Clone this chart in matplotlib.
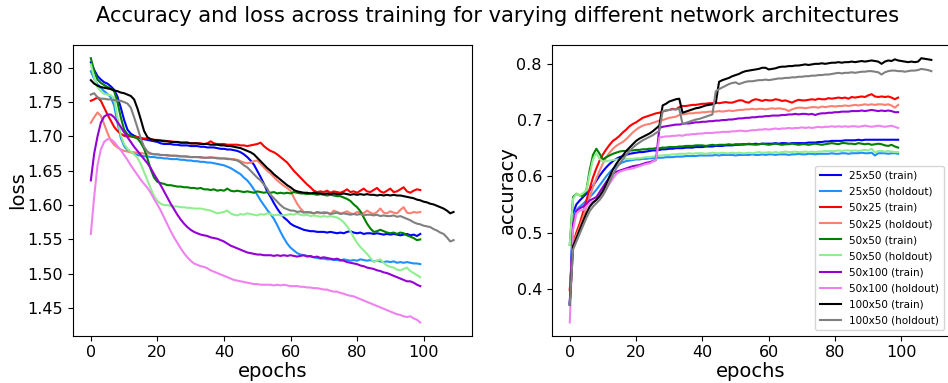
import matplotlib
matplotlib.use("Agg")
import matplotlib.pyplot as plt

epochs_100 = list(range(100))
epochs_110 = list(range(110))

labels = ["25x50 (train)", "25x50 (holdout)", "50x25 (train)", "50x25 (holdout)",
          "50x50 (train)", "50x50 (holdout)", "50x100 (train)", "50x100 (holdout)",
          "100x50 (train)", "100x50 (holdout)"]
colors = ["blue", "dodgerblue", "red", "salmon", "green", "lightgreen",
          "darkviolet", "violet", "black", "grey"]

# ---------------- loss ----------------
loss_25x50_train = [1.808, 1.797, 1.788, 1.783, 1.779, 1.777, 1.773, 1.768, 1.758, 1.742,
    1.724, 1.710, 1.704, 1.701, 1.699, 1.697, 1.696, 1.695, 1.694, 1.693,
    1.692, 1.690, 1.689, 1.689, 1.689, 1.688, 1.688, 1.687, 1.687, 1.687,
    1.686, 1.686, 1.686, 1.685, 1.685, 1.684, 1.684, 1.684, 1.683, 1.682,
    1.682, 1.681, 1.681, 1.680, 1.679, 1.677, 1.674, 1.670, 1.665, 1.659,
    1.650, 1.641, 1.631, 1.620, 1.612, 1.603, 1.595, 1.588, 1.582, 1.578,
    1.573, 1.570, 1.568, 1.566, 1.564, 1.563, 1.562, 1.562, 1.561, 1.561,
    1.561, 1.560, 1.561, 1.560, 1.559, 1.560, 1.559, 1.561, 1.562, 1.560,
    1.559, 1.560, 1.558, 1.559, 1.559, 1.558, 1.559, 1.558, 1.557, 1.558,
    1.557, 1.558, 1.557, 1.556, 1.557, 1.558, 1.556, 1.557, 1.555, 1.558]
loss_25x50_hold = [1.795, 1.784, 1.776, 1.771, 1.766, 1.762, 1.757, 1.745, 1.720, 1.698,
    1.686, 1.680, 1.677, 1.675, 1.673, 1.672, 1.671, 1.671, 1.670, 1.670,
    1.669, 1.669, 1.668, 1.668, 1.667, 1.667, 1.667, 1.666, 1.666, 1.665,
    1.665, 1.664, 1.664, 1.663, 1.663, 1.662, 1.662, 1.661, 1.660, 1.659,
    1.658, 1.656, 1.654, 1.651, 1.648, 1.645, 1.640, 1.636, 1.630, 1.623,
    1.615, 1.607, 1.600, 1.593, 1.587, 1.580, 1.571, 1.561, 1.552, 1.544,
    1.538, 1.534, 1.530, 1.528, 1.527, 1.526, 1.525, 1.524, 1.523, 1.522,
    1.522, 1.521, 1.521, 1.520, 1.520, 1.519, 1.521, 1.520, 1.519, 1.520,
    1.519, 1.521, 1.520, 1.519, 1.520, 1.518, 1.519, 1.518, 1.517, 1.518,
    1.517, 1.518, 1.516, 1.517, 1.516, 1.517, 1.516, 1.515, 1.515, 1.514]
loss_50x25_train = [1.752, 1.754, 1.757, 1.752, 1.742, 1.732, 1.723, 1.714, 1.708, 1.704,
    1.701, 1.700, 1.700, 1.699, 1.699, 1.698, 1.697, 1.697, 1.696, 1.695,
    1.695, 1.694, 1.694, 1.693, 1.693, 1.692, 1.692, 1.691, 1.691, 1.691,
    1.690, 1.690, 1.690, 1.690, 1.689, 1.690, 1.693, 1.690, 1.689, 1.689,
    1.689, 1.688, 1.688, 1.688, 1.688, 1.687, 1.687, 1.686, 1.687, 1.688,
    1.689, 1.691, 1.686, 1.682, 1.679, 1.677, 1.674, 1.670, 1.666, 1.662,
    1.656, 1.650, 1.645, 1.640, 1.635, 1.630, 1.626, 1.621, 1.619, 1.620,
    1.619, 1.621, 1.618, 1.620, 1.619, 1.618, 1.620, 1.623, 1.619, 1.620,
    1.618, 1.621, 1.624, 1.620, 1.619, 1.622, 1.625, 1.620, 1.618, 1.621,
    1.624, 1.619, 1.620, 1.623, 1.626, 1.620, 1.618, 1.621, 1.623, 1.622]
loss_50x25_hold = [1.720, 1.728, 1.735, 1.730, 1.718, 1.705, 1.694, 1.688, 1.684, 1.681,
    1.679, 1.678, 1.677, 1.677, 1.676, 1.676, 1.675, 1.675, 1.675, 1.674,
    1.674, 1.673, 1.673, 1.672, 1.672, 1.672, 1.671, 1.671, 1.671, 1.670,
    1.670, 1.670, 1.670, 1.669, 1.669, 1.669, 1.670, 1.669, 1.669, 1.668,
    1.668, 1.668, 1.667, 1.667, 1.666, 1.664, 1.662, 1.661, 1.662, 1.664,
    1.665, 1.660, 1.655, 1.650, 1.646, 1.641, 1.636, 1.632, 1.628, 1.625,
    1.621, 1.611, 1.602, 1.595, 1.590, 1.589, 1.590, 1.588, 1.589, 1.588,
    1.590, 1.589, 1.587, 1.592, 1.590, 1.588, 1.589, 1.591, 1.588, 1.587,
    1.590, 1.589, 1.588, 1.592, 1.589, 1.587, 1.590, 1.595, 1.589, 1.588,
    1.591, 1.589, 1.588, 1.593, 1.597, 1.589, 1.588, 1.590, 1.589, 1.590]
loss_50x50_train = [1.814, 1.795, 1.783, 1.778, 1.775, 1.772, 1.770, 1.766, 1.750, 1.728,
    1.710, 1.703, 1.701, 1.699, 1.697, 1.691, 1.682, 1.668, 1.652, 1.640,
    1.634, 1.632, 1.631, 1.629, 1.629, 1.628, 1.627, 1.627, 1.626, 1.626,
    1.625, 1.625, 1.624, 1.625, 1.623, 1.623, 1.622, 1.623, 1.621, 1.622,
    1.621, 1.624, 1.621, 1.620, 1.621, 1.620, 1.619, 1.620, 1.619, 1.618,
    1.620, 1.619, 1.618, 1.619, 1.618, 1.619, 1.617, 1.618, 1.617, 1.618,
    1.617, 1.619, 1.618, 1.617, 1.617, 1.616, 1.617, 1.616, 1.615, 1.616,
    1.615, 1.614, 1.615, 1.614, 1.613, 1.613, 1.611, 1.609, 1.606, 1.601,
    1.597, 1.591, 1.582, 1.573, 1.566, 1.561, 1.562, 1.564, 1.562, 1.560,
    1.559, 1.560, 1.558, 1.560, 1.559, 1.556, 1.554, 1.552, 1.549, 1.550]
loss_50x50_hold = [1.805, 1.786, 1.772, 1.766, 1.762, 1.761, 1.760, 1.756, 1.728, 1.702,
    1.689, 1.682, 1.678, 1.674, 1.669, 1.660, 1.648, 1.636, 1.624, 1.613,
    1.606, 1.602, 1.600, 1.600, 1.599, 1.598, 1.598, 1.597, 1.597, 1.596,
    1.596, 1.595, 1.595, 1.595, 1.594, 1.593, 1.592, 1.590, 1.588, 1.589,
    1.590, 1.592, 1.588, 1.586, 1.585, 1.587, 1.586, 1.588, 1.587, 1.586,
    1.585, 1.587, 1.586, 1.588, 1.587, 1.585, 1.586, 1.585, 1.585, 1.586,
    1.587, 1.586, 1.588, 1.586, 1.585, 1.586, 1.584, 1.585, 1.584, 1.583,
    1.584, 1.583, 1.584, 1.583, 1.582, 1.579, 1.575, 1.569, 1.562, 1.553,
    1.545, 1.539, 1.534, 1.529, 1.523, 1.517, 1.519, 1.521, 1.516, 1.512,
    1.510, 1.509, 1.506, 1.505, 1.507, 1.509, 1.504, 1.501, 1.498, 1.495]
loss_50x100_train = [1.636, 1.675, 1.700, 1.720, 1.729, 1.732, 1.732, 1.728, 1.721, 1.714,
    1.706, 1.699, 1.692, 1.685, 1.679, 1.673, 1.667, 1.661, 1.654, 1.645,
    1.637, 1.629, 1.620, 1.611, 1.602, 1.594, 1.586, 1.579, 1.573, 1.568,
    1.564, 1.561, 1.559, 1.557, 1.556, 1.555, 1.553, 1.552, 1.551, 1.549,
    1.547, 1.544, 1.541, 1.539, 1.537, 1.535, 1.533, 1.531, 1.530, 1.529,
    1.528, 1.528, 1.527, 1.527, 1.527, 1.526, 1.527, 1.526, 1.527, 1.526,
    1.527, 1.526, 1.525, 1.526, 1.527, 1.525, 1.526, 1.524, 1.525, 1.523,
    1.524, 1.523, 1.522, 1.521, 1.522, 1.520, 1.519, 1.517, 1.516, 1.515,
    1.514, 1.512, 1.511, 1.509, 1.508, 1.507, 1.505, 1.504, 1.502, 1.501,
    1.499, 1.497, 1.495, 1.493, 1.491, 1.489, 1.489, 1.487, 1.484, 1.482]
loss_50x100_hold = [1.558, 1.612, 1.658, 1.681, 1.692, 1.696, 1.696, 1.692, 1.686, 1.680,
    1.673, 1.666, 1.658, 1.651, 1.644, 1.637, 1.631, 1.625, 1.618, 1.609,
    1.601, 1.592, 1.582, 1.572, 1.562, 1.553, 1.545, 1.537, 1.530, 1.524,
    1.519, 1.515, 1.513, 1.511, 1.510, 1.508, 1.505, 1.503, 1.501, 1.499,
    1.497, 1.495, 1.493, 1.491, 1.490, 1.489, 1.488, 1.487, 1.486, 1.485,
    1.485, 1.484, 1.484, 1.484, 1.484, 1.483, 1.484, 1.483, 1.484, 1.483,
    1.482, 1.482, 1.482, 1.481, 1.481, 1.480, 1.480, 1.479, 1.479, 1.478,
    1.477, 1.477, 1.475, 1.474, 1.474, 1.472, 1.471, 1.469, 1.468, 1.467,
    1.465, 1.463, 1.461, 1.459, 1.457, 1.455, 1.453, 1.451, 1.449, 1.447,
    1.445, 1.443, 1.441, 1.440, 1.438, 1.437, 1.438, 1.435, 1.433, 1.429]
loss_100x50_train = [1.782, 1.777, 1.774, 1.772, 1.771, 1.770, 1.769, 1.767, 1.766, 1.764,
    1.763, 1.761, 1.759, 1.754, 1.741, 1.725, 1.708, 1.699, 1.696, 1.695,
    1.694, 1.694, 1.693, 1.693, 1.692, 1.692, 1.692, 1.691, 1.691, 1.691,
    1.690, 1.690, 1.690, 1.689, 1.689, 1.689, 1.688, 1.688, 1.688, 1.687,
    1.687, 1.686, 1.686, 1.685, 1.684, 1.683, 1.681, 1.679, 1.677, 1.674,
    1.669, 1.664, 1.659, 1.654, 1.650, 1.645, 1.641, 1.637, 1.633, 1.629,
    1.626, 1.622, 1.620, 1.619, 1.618, 1.618, 1.617, 1.618, 1.617, 1.617,
    1.616, 1.617, 1.616, 1.617, 1.616, 1.616, 1.617, 1.616, 1.615, 1.616,
    1.615, 1.616, 1.615, 1.616, 1.615, 1.615, 1.614, 1.615, 1.614, 1.615,
    1.614, 1.615, 1.614, 1.614, 1.613, 1.612, 1.611, 1.610, 1.608, 1.607,
    1.605, 1.604, 1.602, 1.601, 1.599, 1.597, 1.595, 1.592, 1.588, 1.590]
loss_100x50_hold = [1.761, 1.763, 1.757, 1.755, 1.755, 1.754, 1.754, 1.753, 1.752, 1.752,
    1.750, 1.748, 1.742, 1.728, 1.713, 1.697, 1.685, 1.678, 1.675, 1.674,
    1.674, 1.673, 1.673, 1.673, 1.672, 1.672, 1.672, 1.671, 1.671, 1.671,
    1.670, 1.670, 1.670, 1.670, 1.669, 1.669, 1.669, 1.669, 1.668, 1.668,
    1.668, 1.667, 1.667, 1.666, 1.665, 1.662, 1.658, 1.655, 1.650, 1.645,
    1.640, 1.636, 1.630, 1.624, 1.615, 1.610, 1.605, 1.600, 1.596, 1.594,
    1.592, 1.592, 1.590, 1.591, 1.589, 1.590, 1.589, 1.588, 1.590, 1.589,
    1.588, 1.589, 1.587, 1.588, 1.589, 1.587, 1.588, 1.587, 1.586, 1.587,
    1.586, 1.587, 1.585, 1.586, 1.586, 1.585, 1.586, 1.584, 1.585, 1.584,
    1.584, 1.585, 1.583, 1.584, 1.582, 1.580, 1.578, 1.575, 1.573, 1.572,
    1.570, 1.569, 1.568, 1.565, 1.563, 1.560, 1.558, 1.553, 1.547, 1.549]

# ---------------- accuracy ----------------
acc_25x50_train = [0.372, 0.535, 0.550, 0.557, 0.563, 0.569, 0.575, 0.583, 0.592, 0.601,
    0.609, 0.616, 0.622, 0.627, 0.631, 0.634, 0.636, 0.638, 0.640, 0.641,
    0.642, 0.643, 0.643, 0.644, 0.645, 0.646, 0.646, 0.647, 0.648, 0.648,
    0.649, 0.649, 0.650, 0.650, 0.650, 0.651, 0.651, 0.651, 0.652, 0.652,
    0.652, 0.653, 0.653, 0.653, 0.654, 0.654, 0.654, 0.655, 0.655, 0.655,
    0.656, 0.656, 0.657, 0.657, 0.657, 0.657, 0.658, 0.657, 0.658, 0.658,
    0.658, 0.658, 0.659, 0.658, 0.659, 0.659, 0.658, 0.659, 0.659, 0.659,
    0.659, 0.659, 0.660, 0.660, 0.660, 0.661, 0.661, 0.662, 0.662, 0.663,
    0.663, 0.663, 0.663, 0.664, 0.664, 0.664, 0.664, 0.665, 0.664, 0.665,
    0.665, 0.665, 0.665, 0.665, 0.665, 0.665, 0.665, 0.665, 0.665, 0.665]
acc_25x50_hold = [0.372, 0.530, 0.540, 0.546, 0.551, 0.557, 0.563, 0.569, 0.576, 0.584,
    0.592, 0.600, 0.607, 0.613, 0.618, 0.622, 0.625, 0.627, 0.628, 0.629,
    0.630, 0.630, 0.631, 0.631, 0.632, 0.632, 0.633, 0.633, 0.633, 0.634,
    0.634, 0.634, 0.635, 0.635, 0.635, 0.636, 0.636, 0.636, 0.636, 0.637,
    0.637, 0.637, 0.637, 0.637, 0.638, 0.637, 0.638, 0.638, 0.638, 0.638,
    0.637, 0.638, 0.638, 0.638, 0.638, 0.639, 0.638, 0.638, 0.639, 0.638,
    0.639, 0.639, 0.638, 0.639, 0.639, 0.639, 0.638, 0.639, 0.639, 0.640,
    0.639, 0.639, 0.640, 0.640, 0.639, 0.640, 0.640, 0.640, 0.640, 0.641,
    0.640, 0.640, 0.641, 0.641, 0.640, 0.641, 0.641, 0.641, 0.642, 0.641,
    0.641, 0.642, 0.637, 0.641, 0.641, 0.641, 0.640, 0.641, 0.641, 0.640]
acc_50x25_train = [0.398, 0.480, 0.500, 0.516, 0.536, 0.557, 0.578, 0.598, 0.614, 0.628,
    0.639, 0.648, 0.656, 0.663, 0.667, 0.672, 0.678, 0.683, 0.689, 0.693,
    0.696, 0.700, 0.704, 0.706, 0.708, 0.710, 0.712, 0.713, 0.715, 0.717,
    0.718, 0.720, 0.719, 0.723, 0.725, 0.725, 0.726, 0.727, 0.727, 0.728,
    0.729, 0.729, 0.730, 0.730, 0.731, 0.730, 0.731, 0.732, 0.731, 0.731,
    0.733, 0.735, 0.735, 0.732, 0.731, 0.735, 0.737, 0.736, 0.734, 0.736,
    0.735, 0.735, 0.737, 0.736, 0.734, 0.735, 0.733, 0.731, 0.734, 0.736,
    0.735, 0.735, 0.736, 0.737, 0.736, 0.738, 0.737, 0.737, 0.739, 0.738,
    0.739, 0.740, 0.739, 0.740, 0.738, 0.741, 0.740, 0.741, 0.742, 0.741,
    0.744, 0.746, 0.742, 0.741, 0.742, 0.741, 0.742, 0.740, 0.737, 0.740]
acc_50x25_hold = [0.398, 0.478, 0.495, 0.510, 0.527, 0.545, 0.563, 0.581, 0.596, 0.610,
    0.623, 0.634, 0.642, 0.649, 0.654, 0.658, 0.661, 0.666, 0.672, 0.678,
    0.683, 0.687, 0.690, 0.692, 0.693, 0.695, 0.697, 0.699, 0.700, 0.702,
    0.704, 0.705, 0.706, 0.709, 0.710, 0.711, 0.712, 0.712, 0.713, 0.713,
    0.714, 0.714, 0.715, 0.715, 0.715, 0.716, 0.715, 0.716, 0.717, 0.716,
    0.717, 0.718, 0.718, 0.719, 0.719, 0.720, 0.719, 0.720, 0.720, 0.719,
    0.720, 0.721, 0.720, 0.721, 0.720, 0.719, 0.716, 0.719, 0.721, 0.722,
    0.722, 0.721, 0.722, 0.723, 0.723, 0.722, 0.724, 0.723, 0.724, 0.725,
    0.724, 0.725, 0.725, 0.726, 0.725, 0.726, 0.727, 0.726, 0.727, 0.728,
    0.727, 0.728, 0.727, 0.728, 0.728, 0.727, 0.728, 0.726, 0.722, 0.727]
acc_50x50_train = [0.478, 0.563, 0.569, 0.566, 0.565, 0.575, 0.611, 0.638, 0.649, 0.640,
    0.630, 0.634, 0.637, 0.640, 0.642, 0.644, 0.645, 0.645, 0.646, 0.646,
    0.647, 0.647, 0.648, 0.648, 0.649, 0.649, 0.650, 0.650, 0.651, 0.651,
    0.652, 0.652, 0.652, 0.653, 0.653, 0.654, 0.654, 0.654, 0.655, 0.655,
    0.655, 0.654, 0.655, 0.656, 0.655, 0.656, 0.656, 0.656, 0.657, 0.656,
    0.657, 0.657, 0.656, 0.657, 0.658, 0.657, 0.656, 0.657, 0.658, 0.657,
    0.656, 0.657, 0.658, 0.657, 0.656, 0.657, 0.657, 0.658, 0.657, 0.656,
    0.657, 0.657, 0.656, 0.657, 0.658, 0.657, 0.656, 0.657, 0.658, 0.659,
    0.658, 0.657, 0.659, 0.659, 0.658, 0.658, 0.657, 0.659, 0.658, 0.657,
    0.658, 0.656, 0.657, 0.658, 0.657, 0.655, 0.654, 0.656, 0.653, 0.651]
acc_50x50_hold = [0.478, 0.560, 0.569, 0.566, 0.570, 0.575, 0.604, 0.630, 0.641, 0.631,
    0.626, 0.627, 0.628, 0.629, 0.630, 0.630, 0.631, 0.631, 0.631, 0.631,
    0.632, 0.632, 0.633, 0.634, 0.634, 0.635, 0.636, 0.637, 0.637, 0.638,
    0.638, 0.639, 0.639, 0.640, 0.640, 0.640, 0.641, 0.640, 0.641, 0.641,
    0.641, 0.640, 0.641, 0.642, 0.641, 0.641, 0.642, 0.641, 0.641, 0.642,
    0.641, 0.642, 0.641, 0.641, 0.642, 0.641, 0.642, 0.643, 0.642, 0.642,
    0.643, 0.642, 0.643, 0.642, 0.643, 0.644, 0.643, 0.643, 0.644, 0.643,
    0.643, 0.644, 0.643, 0.644, 0.643, 0.644, 0.644, 0.645, 0.645, 0.645,
    0.645, 0.646, 0.645, 0.646, 0.646, 0.645, 0.646, 0.645, 0.646, 0.647,
    0.646, 0.649, 0.642, 0.645, 0.645, 0.644, 0.645, 0.644, 0.643, 0.643]
acc_50x100_train = [0.375, 0.515, 0.538, 0.543, 0.546, 0.551, 0.557, 0.560, 0.563, 0.572,
    0.581, 0.590, 0.598, 0.604, 0.608, 0.610, 0.612, 0.614, 0.616, 0.618,
    0.619, 0.620, 0.622, 0.624, 0.625, 0.627, 0.629, 0.686, 0.688, 0.689,
    0.690, 0.691, 0.692, 0.692, 0.693, 0.694, 0.694, 0.695, 0.696, 0.696,
    0.697, 0.697, 0.698, 0.698, 0.699, 0.699, 0.700, 0.700, 0.701, 0.701,
    0.702, 0.703, 0.703, 0.704, 0.704, 0.705, 0.705, 0.706, 0.706, 0.707,
    0.707, 0.708, 0.708, 0.708, 0.709, 0.709, 0.710, 0.710, 0.711, 0.710,
    0.711, 0.711, 0.710, 0.711, 0.709, 0.711, 0.712, 0.712, 0.713, 0.713,
    0.714, 0.714, 0.715, 0.715, 0.715, 0.716, 0.716, 0.716, 0.717, 0.716,
    0.717, 0.718, 0.717, 0.716, 0.717, 0.716, 0.717, 0.716, 0.714, 0.714]
acc_50x100_hold = [0.340, 0.505, 0.534, 0.539, 0.540, 0.546, 0.552, 0.555, 0.558, 0.563,
    0.569, 0.578, 0.587, 0.596, 0.604, 0.608, 0.610, 0.612, 0.613, 0.614,
    0.616, 0.618, 0.620, 0.622, 0.623, 0.626, 0.629, 0.669, 0.670, 0.671,
    0.671, 0.672, 0.672, 0.673, 0.672, 0.674, 0.674, 0.675, 0.675, 0.676,
    0.676, 0.677, 0.677, 0.677, 0.678, 0.678, 0.679, 0.679, 0.679, 0.680,
    0.680, 0.681, 0.681, 0.680, 0.681, 0.682, 0.682, 0.683, 0.683, 0.684,
    0.683, 0.684, 0.685, 0.684, 0.685, 0.685, 0.686, 0.685, 0.686, 0.686,
    0.687, 0.686, 0.687, 0.686, 0.687, 0.688, 0.687, 0.688, 0.688, 0.689,
    0.688, 0.689, 0.688, 0.689, 0.688, 0.689, 0.689, 0.688, 0.689, 0.690,
    0.689, 0.688, 0.689, 0.690, 0.689, 0.688, 0.689, 0.690, 0.688, 0.686]
acc_100x50_train = [0.372, 0.476, 0.490, 0.505, 0.520, 0.534, 0.546, 0.553, 0.558, 0.565,
    0.574, 0.586, 0.600, 0.612, 0.622, 0.630, 0.637, 0.645, 0.651, 0.657,
    0.663, 0.667, 0.670, 0.673, 0.676, 0.680, 0.685, 0.690, 0.726, 0.729,
    0.733, 0.735, 0.737, 0.738, 0.713, 0.715, 0.717, 0.719, 0.721, 0.722,
    0.724, 0.726, 0.727, 0.728, 0.730, 0.768, 0.771, 0.773, 0.775, 0.778,
    0.780, 0.782, 0.785, 0.787, 0.788, 0.789, 0.790, 0.791, 0.793, 0.793,
    0.790, 0.791, 0.792, 0.794, 0.795, 0.795, 0.796, 0.796, 0.797, 0.797,
    0.798, 0.799, 0.798, 0.799, 0.800, 0.800, 0.801, 0.800, 0.801, 0.802,
    0.802, 0.803, 0.802, 0.803, 0.803, 0.804, 0.803, 0.804, 0.805, 0.804,
    0.805, 0.806, 0.805, 0.804, 0.800, 0.804, 0.806, 0.805, 0.808, 0.806,
    0.805, 0.804, 0.803, 0.804, 0.803, 0.804, 0.810, 0.809, 0.808, 0.807]
acc_100x50_hold = [0.372, 0.470, 0.484, 0.498, 0.512, 0.526, 0.538, 0.546, 0.552, 0.558,
    0.566, 0.577, 0.590, 0.603, 0.614, 0.622, 0.630, 0.638, 0.645, 0.651,
    0.656, 0.660, 0.664, 0.667, 0.670, 0.673, 0.677, 0.681, 0.716, 0.717,
    0.718, 0.719, 0.719, 0.720, 0.693, 0.695, 0.697, 0.699, 0.701, 0.702,
    0.704, 0.706, 0.708, 0.710, 0.751, 0.755, 0.758, 0.761, 0.764, 0.766,
    0.767, 0.764, 0.766, 0.768, 0.769, 0.769, 0.770, 0.771, 0.771, 0.772,
    0.771, 0.772, 0.773, 0.774, 0.774, 0.775, 0.775, 0.776, 0.776, 0.777,
    0.777, 0.778, 0.778, 0.779, 0.779, 0.780, 0.780, 0.781, 0.781, 0.782,
    0.783, 0.784, 0.783, 0.784, 0.784, 0.785, 0.784, 0.785, 0.786, 0.786,
    0.787, 0.787, 0.786, 0.785, 0.781, 0.785, 0.787, 0.788, 0.788, 0.787,
    0.787, 0.786, 0.787, 0.788, 0.788, 0.789, 0.791, 0.790, 0.789, 0.787]

loss_series = [loss_25x50_train, loss_25x50_hold, loss_50x25_train, loss_50x25_hold,
               loss_50x50_train, loss_50x50_hold, loss_50x100_train, loss_50x100_hold,
               loss_100x50_train, loss_100x50_hold]
acc_series = [acc_25x50_train, acc_25x50_hold, acc_50x25_train, acc_50x25_hold,
              acc_50x50_train, acc_50x50_hold, acc_50x100_train, acc_50x100_hold,
              acc_100x50_train, acc_100x50_hold]

fig = plt.figure(figsize=(9.48, 3.83), dpi=100)
W, H = 948.0, 383.0
ax1 = fig.add_axes([72.7 / W, 47.3 / H, 399.0 / W, 290.7 / H])
ax2 = fig.add_axes([551.7 / W, 47.3 / H, 397.7 / W, 290.7 / H])

for ys, lab, col in zip(loss_series, labels, colors):
    xs = epochs_110 if len(ys) == 110 else epochs_100
    ax1.plot(xs, ys, color=col, label=lab, linewidth=1.5)
for ys, lab, col in zip(acc_series, labels, colors):
    xs = epochs_110 if len(ys) == 110 else epochs_100
    ax2.plot(xs, ys, color=col, label=lab, linewidth=1.5)

ax1.set_xlabel("epochs", fontsize=14, labelpad=1)
ax1.set_ylabel("loss", fontsize=14, labelpad=0)
ax2.set_xlabel("epochs", fontsize=14, labelpad=1)
ax2.set_ylabel("accuracy", fontsize=14, labelpad=0)
for ax in (ax1, ax2):
    ax.tick_params(labelsize=11.5)
ax1.set_xticks([0, 20, 40, 60, 80, 100])
ax2.set_xticks([0, 20, 40, 60, 80, 100])
ax1.set_yticks([1.45, 1.50, 1.55, 1.60, 1.65, 1.70, 1.75, 1.80])
ax2.set_yticks([0.4, 0.5, 0.6, 0.7, 0.8])

ax2.legend(loc="lower right", fontsize=7.5, labelspacing=0.58,
           borderaxespad=0.55, borderpad=0.45)
fig.suptitle("Accuracy and loss across training for varying different network architectures",
             fontsize=15.1, x=0.525, y=1 - 16 / H, va="center")

fig.savefig("out.png", dpi=100)
